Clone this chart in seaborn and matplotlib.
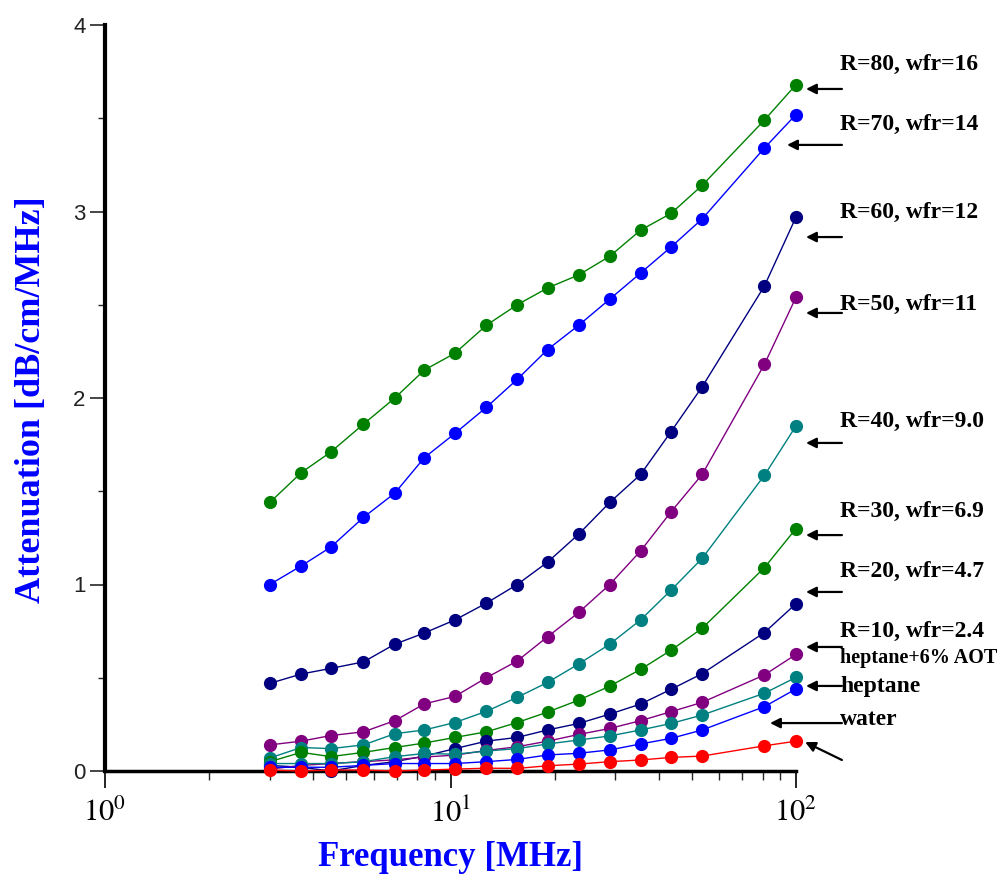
import numpy as np
import pandas as pd
import matplotlib
matplotlib.use("Agg")
import matplotlib.pyplot as plt
import seaborn as sns
from matplotlib.ticker import FuncFormatter, MultipleLocator, LogLocator, NullFormatter

# Measurement frequencies [MHz]
freq = [3.0, 3.7, 4.5, 5.6, 6.9, 8.4, 10.3, 12.7, 15.6, 19.1, 23.5, 28.9, 35.5, 43.5, 53.5, 81.0, 100.0]

# Attenuation [dB/cm/MHz] for each sample
r80 = [1.44, 1.60, 1.71, 1.86, 2.00, 2.15, 2.24, 2.39, 2.50, 2.59, 2.66, 2.76, 2.90, 2.99, 3.14, 3.49, 3.68]
r70 = [1.00, 1.10, 1.20, 1.36, 1.49, 1.68, 1.81, 1.95, 2.10, 2.26, 2.39, 2.53, 2.67, 2.81, 2.96, 3.34, 3.52]
r60 = [0.47, 0.52, 0.55, 0.585, 0.68, 0.74, 0.81, 0.90, 1.00, 1.12, 1.27, 1.44, 1.59, 1.82, 2.06, 2.60, 2.97]
r50 = [0.14, 0.16, 0.19, 0.21, 0.27, 0.36, 0.40, 0.50, 0.59, 0.72, 0.85, 1.00, 1.18, 1.39, 1.59, 2.18, 2.54]
r40 = [0.07, 0.126, 0.12, 0.14, 0.20, 0.22, 0.26, 0.32, 0.395, 0.475, 0.574, 0.68, 0.81, 0.97, 1.14, 1.585, 1.85]
r30 = [0.05, 0.10, 0.077, 0.10, 0.126, 0.15, 0.18, 0.21, 0.26, 0.316, 0.38, 0.455, 0.545, 0.648, 0.765, 1.09, 1.30]
r20 = [0.03, 0.02, 0.0, 0.03, 0.05, 0.08, 0.12, 0.16, 0.18, 0.22, 0.255, 0.305, 0.359, 0.438, 0.522, 0.742, 0.897]
r10 = [0.01, 0.03, 0.04, 0.05, 0.06, 0.075, 0.085, 0.11, 0.13, 0.16, 0.196, 0.228, 0.27, 0.318, 0.368, 0.515, 0.625]
hept_aot = [0.04, 0.04, 0.04, 0.05, 0.077, 0.094, 0.09, 0.107, 0.12, 0.145, 0.166, 0.188, 0.22, 0.255, 0.30, 0.417, 0.502]
heptane = [0.02, 0.02, 0.02, 0.03, 0.04, 0.04, 0.04, 0.05, 0.062, 0.086, 0.095, 0.113, 0.145, 0.175, 0.22, 0.345, 0.44]
water = [0.005, 0.0, 0.005, 0.005, 0.0, 0.005, 0.01, 0.015, 0.014, 0.028, 0.037, 0.05, 0.059, 0.073, 0.08, 0.135, 0.16]

series_names = ["R=80, wfr=16", "R=70, wfr=14", "R=60, wfr=12", "R=50, wfr=11",
                "R=40, wfr=9.0", "R=30, wfr=6.9", "R=20, wfr=4.7", "R=10, wfr=2.4",
                "heptane+6% AOT", "heptane", "water"]
series_values = [r80, r70, r60, r50, r40, r30, r20, r10, hept_aot, heptane, water]
series_colors = ["#008000", "#0000FF", "#000080", "#800080", "#008080", "#008000",
                 "#000080", "#800080", "#008080", "#0000FF", "#FF0000"]

# Label placement at the right-hand side (text baseline and arrow positions, in data units)
label_y = [3.759, 3.437, 2.965, 2.472, 1.845, 1.362, 1.040, 0.718, 0.579, 0.424, 0.247]
label_size = [17, 17, 17, 17, 17, 17, 17, 17, 14.5, 17, 17]
label_x = 134.0
arrow_y = [3.657, 3.357, 2.863, 2.456, 1.759, 1.265, 0.960, 0.665, None, 0.456, 0.257]
arrow_tip_x = [106.9, 94.2, 106.9, 106.9, 106.9, 106.9, 106.9, 106.9, None, 106.9, 84.1]
arrow_tail_x = 135.8

rows = []
for name, vals in zip(series_names, series_values):
    for f, v in zip(freq, vals):
        rows.append({"series": name, "freq": f, "att": v})
df = pd.DataFrame(rows)

sns.set_theme(style="white")
plt.rcParams["font.family"] = ["Liberation Serif", "DejaVu Sans"]
plt.rcParams["mathtext.fontset"] = "stix"

fig = plt.figure(figsize=(10.02, 8.77), dpi=100)
ax = fig.add_axes([105 / 1002, 1 - 771 / 877, 691 / 1002, 746 / 877])

sns.lineplot(data=df, x="freq", y="att", hue="series", hue_order=series_names,
             palette=series_colors, marker="o", markersize=9.5, markeredgewidth=0,
             linewidth=1.0, legend=False, sort=False, estimator=None,
             clip_on=False, ax=ax)

ax.set_xscale("log")
ax.set_xlim(1, 100)
ax.set_ylim(0, 4)
ax.set_xlabel("")
ax.set_ylabel("")

for side in ("top", "right"):
    ax.spines[side].set_visible(False)
ax.spines["left"].set_linewidth(3.0)
ax.spines["bottom"].set_linewidth(2.5)
for side in ("left", "bottom"):
    ax.spines[side].set_color("black")
    ax.spines[side].set_zorder(1)

ax.xaxis.set_major_locator(LogLocator(base=10, numticks=5))
ax.xaxis.set_minor_locator(LogLocator(base=10, subs=np.arange(2, 10), numticks=20))
ax.xaxis.set_minor_formatter(NullFormatter())
ax.xaxis.set_major_formatter(FuncFormatter(lambda v, p: r"$10^{%d}$" % int(round(np.log10(v)))))
ax.yaxis.set_major_locator(MultipleLocator(1))
ax.yaxis.set_minor_locator(MultipleLocator(0.5))
ax.yaxis.set_major_formatter(FuncFormatter(lambda v, p: "%d" % int(round(v))))

ax.tick_params(axis="x", which="major", direction="out", length=12, width=1.2,
               pad=8, labelsize=22, colors="black", bottom=True)
ax.tick_params(axis="x", which="minor", direction="out", length=6.5, width=1.0, bottom=True)
ax.tick_params(axis="y", which="major", direction="out", length=11, width=1.2,
               pad=3, labelsize=16, left=True)
ax.tick_params(axis="y", which="minor", direction="out", length=5, width=1.0, left=True)
for lab in ax.get_yticklabels():
    lab.set_fontfamily("Liberation Sans")
    lab.set_color("#222222")

# Axis titles
fig.text(450 / 1002, 1 - 857 / 877, "Frequency [MHz]", color="#0000FF",
         fontsize=25, fontweight="bold", ha="center", va="center")
fig.text(32 / 1002, 1 - 400 / 877, "Attenuation [dB/cm/MHz]", color="#0000FF",
         fontsize=26, fontweight="bold", ha="center", va="center", rotation=90)

# Sample labels with pointer arrows
arrow_kw = dict(arrowstyle="-|>", color="black", lw=1.6, mutation_scale=15,
                shrinkA=0, shrinkB=0)
for name, ty, fs, ay, tip in zip(series_names, label_y, label_size, arrow_y, arrow_tip_x):
    ax.text(label_x, ty, name, fontsize=fs, fontweight="bold", color="black",
            ha="left", va="baseline", clip_on=False)
    if ay is not None:
        ax.annotate("", xy=(tip, ay), xytext=(arrow_tail_x, ay),
                    arrowprops=arrow_kw, annotation_clip=False)
# pointer to the water curve end
ax.annotate("", xy=(106.3, water[-1] - 0.005), xytext=(arrow_tail_x, 0.059),
            arrowprops=arrow_kw, annotation_clip=False)

fig.savefig("out.png", dpi=100)
